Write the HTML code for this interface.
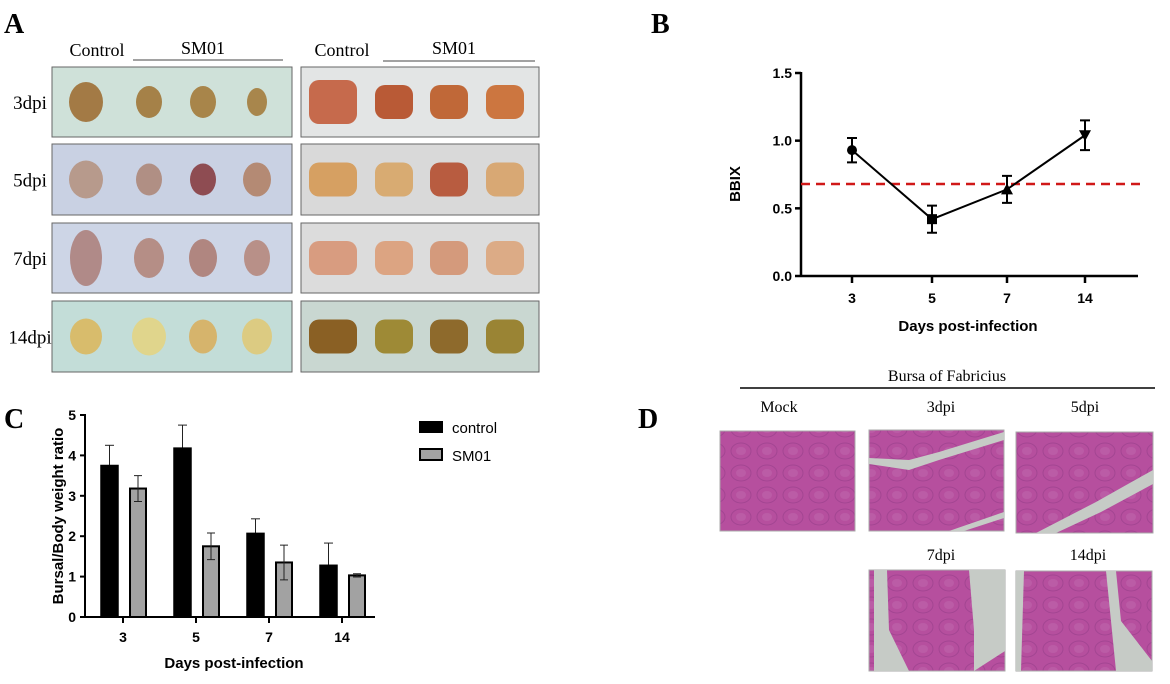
<!DOCTYPE html>
<html><head><meta charset="utf-8">
<style>
html,body{margin:0;padding:0;background:#fff;}
svg{display:block;}
</style></head>
<body>
<svg id="fig" width="1170" height="684" viewBox="0 0 1170 684" xmlns="http://www.w3.org/2000/svg">
<defs>
<pattern id="tissue" width="26" height="22" patternUnits="userSpaceOnUse">
<rect width="26" height="22" fill="#b64f9e"/>
<ellipse cx="13" cy="11" rx="10" ry="8" fill="none" stroke="#a34592" stroke-width="1"/>
<ellipse cx="13" cy="11" rx="5" ry="4" fill="#bb5ca6"/>
</pattern>
</defs>
<g font-family="Liberation Serif, serif" font-weight="bold" font-size="28" fill="#000">
<text x="4" y="33">A</text>
<text x="651" y="33">B</text>
<text x="4" y="428">C</text>
<text x="638" y="428">D</text>
</g>
<g id="panelA"></g>
<g id="panelB"></g>
<g id="panelC"></g>
<g id="panelD"></g>
</svg>
<script>
const NS='http://www.w3.org/2000/svg';
function mk(parent,tag,attrs,text){const e=document.createElementNS(NS,tag);for(const k in attrs)e.setAttribute(k,attrs[k]);if(text!==undefined)e.textContent=text;parent.appendChild(e);return e;}

// ---------- Panel B data ----------
const bDays=['3','5','7','14'];
const bMean=[0.93,0.42,0.64,1.04];
const bErr=[0.09,0.10,0.10,0.11];
const bThreshold=0.68;
const bYTicks=[0.0,0.5,1.0,1.5];

// ---------- Panel C data ----------
const cDays=['3','5','7','14'];
const cControl=[3.75,4.18,2.07,1.28];
const cControlErr=[0.50,0.57,0.36,0.55];
const cSM01=[3.18,1.75,1.35,1.03];
const cSM01Err=[0.32,0.33,0.43,0.04];
const cYTicks=[0,1,2,3,4,5];

// ---------- Panel A ----------
(function(){
const g=document.getElementById('panelA');
const rows=['3dpi','5dpi','7dpi','14dpi'];
const rowY=[[67,137],[144,215],[223,293],[301,372]];
const leftBg=['#cfe1d9','#c9d1e3','#cdd5e6','#c3ddd8'];
const rightBg=['#e3e5e5','#d9d9d9','#dcdcdc','#c9d7d1'];
const leftOrg=[['#a37a45','#a58148','#a8854a','#a8864c'],['#b79a8c','#b08f84','#8e4c52','#b48a74'],['#b08a88','#b58e86','#b08680','#b89088'],['#d8bc6c','#e0d58c','#d6b46c','#dccb82']];
const rightOrg=[['#c66a4c','#b95a36','#c06838','#cc7640'],['#d6a062','#d8ab72','#b85c40','#d8a874'],['#d89c80','#dca482','#d49a7c','#dcab86'],['#8a6024','#9e8a36','#8e6a2c','#9a8434']];
const lx=[86,149,203,257], rx=[333,394,449,505];
const sizes=[[[17,20],[13,16],[13,16],[10,14]],[[17,19],[13,16],[13,16],[14,17]],[[16,28],[15,20],[14,19],[13,18]],[[16,18],[17,19],[14,17],[15,18]]];
rows.forEach((r,i)=>{
  const [y0,y1]=rowY[i];const cy=(y0+y1)/2;
  const l=mk(g,'text',{x:30,y:cy+7,'text-anchor':'middle','font-family':'Liberation Serif, serif','font-size':19},r);
  
  
  const b1=mk(g,'rect',{x:52,y:y0,width:240,height:y1-y0,fill:leftBg[i],stroke:'#666','stroke-width':1});
  
  
  const b2=mk(g,'rect',{x:301,y:y0,width:238,height:y1-y0,fill:rightBg[i],stroke:'#666','stroke-width':1});
  
  
  for(let j=0;j<4;j++){
    const [w,h]=sizes[i][j];
    const e=mk(g,'ellipse',{cx:lx[j],cy:cy,rx:w,ry:h,fill:leftOrg[i][j]});
    
    
    const rw=j===0?24:19, rh=i===0&&j===0?22:17;
    const e2=mk(g,'rect',{x:rx[j]-rw,y:cy-rh,width:rw*2,height:rh*2,rx:10,fill:rightOrg[i][j]});
    
    
  }
});
const hd=[[97,56,'Control'],[203,54,'SM01'],[342,56,'Control'],[454,54,'SM01']];
hd.forEach(h=>{const t=mk(g,'text',{x:h[0],y:h[1],'text-anchor':'middle','font-family':'Liberation Serif, serif','font-size':18},h[2]);

});
mk(g,'line',{x1:133,y1:60,x2:283,y2:60,stroke:'#444','stroke-width':1});
mk(g,'line',{x1:383,y1:61,x2:535,y2:61,stroke:'#444','stroke-width':1});
})();

// ---------- Panel B chart ----------
(function(){
const g=document.getElementById('panelB');
const x0=801,xEnd=1138,yBase=276,yTop=73;
const xPos=[852,932,1007,1085];
const y=v=>yBase-(v/1.5)*(yBase-yTop);
mk(g,'line',{x1:x0,y1:yTop-1,x2:x0,y2:yBase,stroke:'#000','stroke-width':2.5});
mk(g,'line',{x1:x0,y1:yBase,x2:xEnd,y2:yBase,stroke:'#000','stroke-width':2.5});
bYTicks.forEach(t=>{
  mk(g,'line',{x1:x0-6,y1:y(t),x2:x0,y2:y(t),stroke:'#000','stroke-width':2.5});
  const tl=mk(g,'text',{x:x0-9,y:y(t)+5,'text-anchor':'end','font-family':'Liberation Sans, sans-serif','font-weight':'bold','font-size':14},t.toFixed(1));
  
  
});
bDays.forEach((d,i)=>{
  mk(g,'line',{x1:xPos[i],y1:yBase,x2:xPos[i],y2:yBase+7,stroke:'#000','stroke-width':2.5});
  const tl=mk(g,'text',{x:xPos[i],y:yBase+27,'text-anchor':'middle','font-family':'Liberation Sans, sans-serif','font-weight':'bold','font-size':14},d);
  
  
});
const th=mk(g,'line',{x1:x0,y1:y(bThreshold),x2:1145,y2:y(bThreshold),stroke:'#d01818','stroke-width':2.5,'stroke-dasharray':'9,6'});


const pts=bMean.map((v,i)=>xPos[i]+','+y(v)).join(' ');
const ln=mk(g,'polyline',{points:pts,fill:'none',stroke:'#000','stroke-width':2});


bMean.forEach((v,i)=>{
  const cx=xPos[i],cy=y(v),t=y(v+bErr[i]),b=y(v-bErr[i]);
  mk(g,'path',{d:`M${cx},${t}V${b}M${cx-5},${t}H${cx+5}M${cx-5},${b}H${cx+5}`,stroke:'#000','stroke-width':2,fill:'none'});
  let m;
  if(i===0)m=mk(g,'circle',{cx:cx,cy:cy,r:5,fill:'#000'});
  else if(i===1)m=mk(g,'rect',{x:cx-5,y:cy-5,width:10,height:10,fill:'#000'});
  else if(i===2)m=mk(g,'path',{d:`M${cx},${cy-6}L${cx+6},${cy+5}L${cx-6},${cy+5}Z`,fill:'#000'});
  else m=mk(g,'path',{d:`M${cx},${cy+6}L${cx+6},${cy-5}L${cx-6},${cy-5}Z`,fill:'#000'});
  
  
});
const yt=mk(g,'text',{x:0,y:0,transform:'translate(740,184) rotate(-90)','text-anchor':'middle','font-family':'Liberation Sans, sans-serif','font-weight':'bold','font-size':15},'BBIX');


const xt=mk(g,'text',{x:968,y:331,'text-anchor':'middle','font-family':'Liberation Sans, sans-serif','font-weight':'bold','font-size':15},'Days post-infection');


})();

// ---------- Panel C chart ----------
(function(){
const g=document.getElementById('panelC');
const x0=85,xEnd=375,yBase=617,yTop=415;
const xPos=[123,196,269,342];
const y=v=>yBase-(v/5)*(yBase-yTop);
mk(g,'line',{x1:x0,y1:yTop-1,x2:x0,y2:yBase,stroke:'#000','stroke-width':2});
mk(g,'line',{x1:x0,y1:yBase,x2:xEnd,y2:yBase,stroke:'#000','stroke-width':2});
cYTicks.forEach(t=>{
  mk(g,'line',{x1:x0-5,y1:y(t),x2:x0,y2:y(t),stroke:'#000','stroke-width':2});
  const tl=mk(g,'text',{x:x0-9,y:y(t)+5,'text-anchor':'end','font-family':'Liberation Sans, sans-serif','font-weight':'bold','font-size':14},String(t));
  
  
});
cDays.forEach((d,i)=>{
  const cx=xPos[i];
  mk(g,'line',{x1:cx,y1:yBase,x2:cx,y2:yBase+6,stroke:'#000','stroke-width':2});
  const tl=mk(g,'text',{x:cx,y:yBase+25,'text-anchor':'middle','font-family':'Liberation Sans, sans-serif','font-weight':'bold','font-size':14},d);
  
  
  const c=cControl[i],ce=cControlErr[i];
  mk(g,'line',{x1:cx-13.5,y1:y(c),x2:cx-13.5,y2:y(c+ce),stroke:'#222','stroke-width':1});
  mk(g,'line',{x1:cx-18,y1:y(c+ce),x2:cx-9,y2:y(c+ce),stroke:'#222','stroke-width':1});
  const b1=mk(g,'rect',{x:cx-22,y:y(c),width:17,height:yBase-y(c),fill:'#000',stroke:'#000','stroke-width':1.5});
  
  
  const s=cSM01[i],se=cSM01Err[i];
  const b2=mk(g,'rect',{x:cx+7,y:y(s),width:16,height:yBase-y(s),fill:'#a2a2a2',stroke:'#000','stroke-width':2});
  
  
  const sx=cx+15;
  mk(g,'path',{d:`M${sx},${y(s+se)}V${y(s-se)}M${sx-4},${y(s+se)}H${sx+4}M${sx-4},${y(s-se)}H${sx+4}`,stroke:'#222','stroke-width':1,fill:'none'});
});
const yt=mk(g,'text',{x:0,y:0,transform:'translate(63,516) rotate(-90)','text-anchor':'middle','font-family':'Liberation Sans, sans-serif','font-weight':'bold','font-size':15},'Bursal/Body weight ratio');


const xt=mk(g,'text',{x:234,y:668,'text-anchor':'middle','font-family':'Liberation Sans, sans-serif','font-weight':'bold','font-size':15},'Days post-infection');


const l1=mk(g,'rect',{x:419,y:421,width:24,height:12,fill:'#000'});


const l1t=mk(g,'text',{x:452,y:433,'font-family':'Liberation Sans, sans-serif','font-size':15},'control');


const l2=mk(g,'rect',{x:420,y:449,width:22,height:11,fill:'#a2a2a2',stroke:'#000','stroke-width':2});


const l2t=mk(g,'text',{x:452,y:461,'font-family':'Liberation Sans, sans-serif','font-size':15},'SM01');


})();

// ---------- Panel D ----------
(function(){
const g=document.getElementById('panelD');
const t=mk(g,'text',{x:947,y:381,'text-anchor':'middle','font-family':'Liberation Serif, serif','font-size':16},'Bursa of Fabricius');


mk(g,'line',{x1:740,y1:388,x2:1155,y2:388,stroke:'#000','stroke-width':1.5});
const imgs=[['Mock',720,431,135,100,779,412],['3dpi',869,430,135,101,941,412],['5dpi',1016,432,137,101,1085,412],['7dpi',869,570,136,101,941,560],['14dpi',1016,571,136,100,1088,560]];
imgs.forEach((m,i)=>{
  const [name,x,yy,w,h,lx,ly]=m;
  const lab=mk(g,'text',{x:lx,y:ly,'text-anchor':'middle','font-family':'Liberation Serif, serif','font-size':16},name);
  
  
  const r=mk(g,'rect',{x:x,y:yy,width:w,height:h,fill:'url(#tissue)',stroke:'#aaa','stroke-width':1});
  
  
  const gap='#c6cbc6';
  if(i===1){mk(g,'path',{d:`M${x},${yy+28}L${x+40},${yy+30}L${x+70},${yy+22}L${x+w},${yy+2}L${x+w},${yy+10}L${x+70},${yy+30}L${x+40},${yy+40}L${x},${yy+34}Z M${x+80},${yy+h}L${x+w},${yy+82}L${x+w},${yy+88}L${x+95},${yy+h}Z`,fill:gap});}
  if(i===2){mk(g,'path',{d:`M${x+20},${yy+h}L${x+80},${yy+70}L${x+w},${yy+38}L${x+w},${yy+52}L${x+85},${yy+80}L${x+40},${yy+h}Z`,fill:gap});}
  if(i===3){mk(g,'path',{d:`M${x+5},${yy}L${x+18},${yy}L${x+20},${yy+60}L${x+40},${yy+h}L${x+5},${yy+h}L${x+5},${yy+50}Z M${x+100},${yy}L${x+w},${yy}L${x+w},${yy+h-20}L${x+105},${yy+h}L${x+105},${yy+60}Z`,fill:gap});}
  if(i===4){mk(g,'path',{d:`M${x},${yy}L${x+8},${yy}L${x+5},${yy+h}L${x},${yy+h}Z M${x+90},${yy}L${x+100},${yy}L${x+105},${yy+50}L${x+w},${yy+h-10}L${x+w},${yy+h}L${x+100},${yy+h}L${x+95},${yy+50}Z`,fill:gap});}
});
})();
</script>
</body></html>
